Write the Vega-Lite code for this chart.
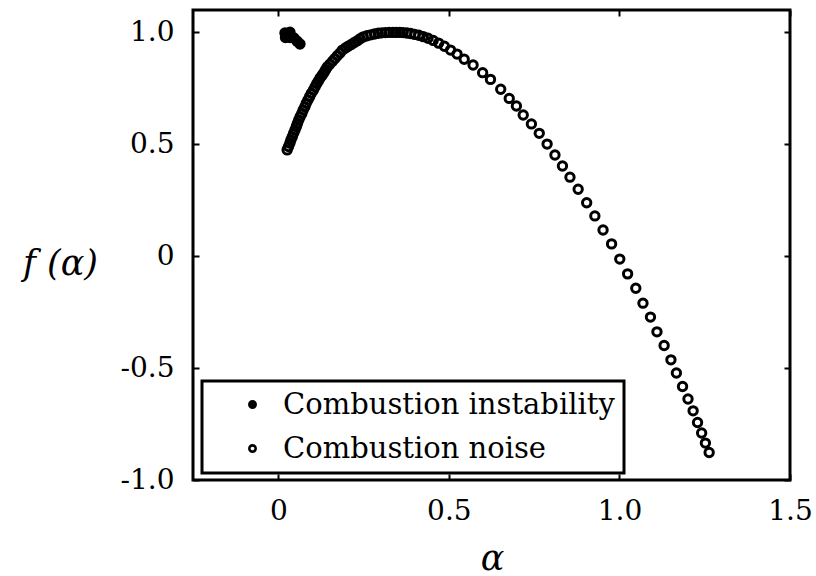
{
  "$schema": "https://vega.github.io/schema/vega-lite/v6.json",
  "width": 597,
  "height": 470,
  "autosize": "none",
  "padding": {"left": 193, "top": 10, "right": 26, "bottom": 96},
  "background": "white",
  "config": {
    "view": {"stroke": "black", "strokeWidth": 3},
    "font": "DejaVu Serif",
    "axis": {
      "grid": false,
      "domain": false,
      "tickColor": "black",
      "tickWidth": 2,
      "tickSize": -6,
      "labelFont": "DejaVu Serif",
      "labelFontSize": 28,
      "labelColor": "black",
      "labelFlush": false,
      "titleFont": "DejaVu Serif",
      "titleColor": "black",
      "titleFontWeight": "normal",
      "titleFontStyle": "italic",
      "titleFontSize": 35
    },
    "legend": {
      "strokeColor": "black",
      "strokeWidth": 3,
      "fillColor": "white",
      "padding": 9,
      "labelFont": "DejaVu Serif",
      "labelFontSize": 29,
      "labelColor": "black",
      "labelLimit": 600,
      "symbolSize": 40,
      "symbolStrokeWidth": 2.6,
      "symbolStrokeColor": "black",
      "symbolType": "circle",
      "symbolOffset": 27,
      "labelOffset": 16,
      "rowPadding": 14
    }
  },
  "data": {
    "values": [
      {"a": 0.0196, "f": 0.997, "s": "Combustion instability"},
      {"a": 0.0343, "f": 1.001, "s": "Combustion instability"},
      {"a": 0.0270, "f": 0.988, "s": "Combustion instability"},
      {"a": 0.0211, "f": 0.977, "s": "Combustion instability"},
      {"a": 0.0343, "f": 0.977, "s": "Combustion instability"},
      {"a": 0.0460, "f": 0.975, "s": "Combustion instability"},
      {"a": 0.0548, "f": 0.961, "s": "Combustion instability"},
      {"a": 0.0636, "f": 0.948, "s": "Combustion instability"},
      {"a": 0.026, "f": 0.475, "s": "Combustion noise"},
      {"a": 0.030, "f": 0.490, "s": "Combustion noise"},
      {"a": 0.034, "f": 0.505, "s": "Combustion noise"},
      {"a": 0.037, "f": 0.519, "s": "Combustion noise"},
      {"a": 0.041, "f": 0.534, "s": "Combustion noise"},
      {"a": 0.045, "f": 0.549, "s": "Combustion noise"},
      {"a": 0.049, "f": 0.564, "s": "Combustion noise"},
      {"a": 0.053, "f": 0.579, "s": "Combustion noise"},
      {"a": 0.056, "f": 0.593, "s": "Combustion noise"},
      {"a": 0.060, "f": 0.608, "s": "Combustion noise"},
      {"a": 0.064, "f": 0.623, "s": "Combustion noise"},
      {"a": 0.069, "f": 0.638, "s": "Combustion noise"},
      {"a": 0.073, "f": 0.653, "s": "Combustion noise"},
      {"a": 0.078, "f": 0.668, "s": "Combustion noise"},
      {"a": 0.082, "f": 0.683, "s": "Combustion noise"},
      {"a": 0.087, "f": 0.698, "s": "Combustion noise"},
      {"a": 0.092, "f": 0.713, "s": "Combustion noise"},
      {"a": 0.097, "f": 0.728, "s": "Combustion noise"},
      {"a": 0.103, "f": 0.742, "s": "Combustion noise"},
      {"a": 0.108, "f": 0.757, "s": "Combustion noise"},
      {"a": 0.113, "f": 0.772, "s": "Combustion noise"},
      {"a": 0.118, "f": 0.784, "s": "Combustion noise"},
      {"a": 0.123, "f": 0.797, "s": "Combustion noise"},
      {"a": 0.129, "f": 0.809, "s": "Combustion noise"},
      {"a": 0.134, "f": 0.821, "s": "Combustion noise"},
      {"a": 0.139, "f": 0.834, "s": "Combustion noise"},
      {"a": 0.144, "f": 0.846, "s": "Combustion noise"},
      {"a": 0.151, "f": 0.858, "s": "Combustion noise"},
      {"a": 0.159, "f": 0.871, "s": "Combustion noise"},
      {"a": 0.166, "f": 0.883, "s": "Combustion noise"},
      {"a": 0.173, "f": 0.896, "s": "Combustion noise"},
      {"a": 0.181, "f": 0.908, "s": "Combustion noise"},
      {"a": 0.188, "f": 0.921, "s": "Combustion noise"},
      {"a": 0.197, "f": 0.930, "s": "Combustion noise"},
      {"a": 0.205, "f": 0.938, "s": "Combustion noise"},
      {"a": 0.214, "f": 0.946, "s": "Combustion noise"},
      {"a": 0.223, "f": 0.955, "s": "Combustion noise"},
      {"a": 0.232, "f": 0.963, "s": "Combustion noise"},
      {"a": 0.240, "f": 0.972, "s": "Combustion noise"},
      {"a": 0.249, "f": 0.980, "s": "Combustion noise"},
      {"a": 0.260, "f": 0.985, "s": "Combustion noise"},
      {"a": 0.271, "f": 0.989, "s": "Combustion noise"},
      {"a": 0.282, "f": 0.993, "s": "Combustion noise"},
      {"a": 0.293, "f": 0.996, "s": "Combustion noise"},
      {"a": 0.303, "f": 0.998, "s": "Combustion noise"},
      {"a": 0.314, "f": 0.999, "s": "Combustion noise"},
      {"a": 0.325, "f": 1.000, "s": "Combustion noise"},
      {"a": 0.336, "f": 1.000, "s": "Combustion noise"},
      {"a": 0.346, "f": 1.000, "s": "Combustion noise"},
      {"a": 0.356, "f": 1.000, "s": "Combustion noise"},
      {"a": 0.366, "f": 0.999, "s": "Combustion noise"},
      {"a": 0.377, "f": 0.997, "s": "Combustion noise"},
      {"a": 0.388, "f": 0.995, "s": "Combustion noise"},
      {"a": 0.400, "f": 0.991, "s": "Combustion noise"},
      {"a": 0.412, "f": 0.987, "s": "Combustion noise"},
      {"a": 0.425, "f": 0.981, "s": "Combustion noise"},
      {"a": 0.439, "f": 0.974, "s": "Combustion noise"},
      {"a": 0.454, "f": 0.964, "s": "Combustion noise"},
      {"a": 0.470, "f": 0.952, "s": "Combustion noise"},
      {"a": 0.487, "f": 0.938, "s": "Combustion noise"},
      {"a": 0.505, "f": 0.921, "s": "Combustion noise"},
      {"a": 0.524, "f": 0.903, "s": "Combustion noise"},
      {"a": 0.545, "f": 0.880, "s": "Combustion noise"},
      {"a": 0.571, "f": 0.854, "s": "Combustion noise"},
      {"a": 0.599, "f": 0.820, "s": "Combustion noise"},
      {"a": 0.622, "f": 0.790, "s": "Combustion noise"},
      {"a": 0.652, "f": 0.746, "s": "Combustion noise"},
      {"a": 0.677, "f": 0.705, "s": "Combustion noise"},
      {"a": 0.698, "f": 0.671, "s": "Combustion noise"},
      {"a": 0.718, "f": 0.631, "s": "Combustion noise"},
      {"a": 0.742, "f": 0.591, "s": "Combustion noise"},
      {"a": 0.765, "f": 0.549, "s": "Combustion noise"},
      {"a": 0.788, "f": 0.501, "s": "Combustion noise"},
      {"a": 0.811, "f": 0.452, "s": "Combustion noise"},
      {"a": 0.833, "f": 0.403, "s": "Combustion noise"},
      {"a": 0.855, "f": 0.353, "s": "Combustion noise"},
      {"a": 0.879, "f": 0.299, "s": "Combustion noise"},
      {"a": 0.904, "f": 0.239, "s": "Combustion noise"},
      {"a": 0.928, "f": 0.180, "s": "Combustion noise"},
      {"a": 0.952, "f": 0.117, "s": "Combustion noise"},
      {"a": 0.977, "f": 0.055, "s": "Combustion noise"},
      {"a": 1.001, "f": -0.013, "s": "Combustion noise"},
      {"a": 1.024, "f": -0.079, "s": "Combustion noise"},
      {"a": 1.048, "f": -0.143, "s": "Combustion noise"},
      {"a": 1.069, "f": -0.210, "s": "Combustion noise"},
      {"a": 1.091, "f": -0.272, "s": "Combustion noise"},
      {"a": 1.110, "f": -0.338, "s": "Combustion noise"},
      {"a": 1.131, "f": -0.399, "s": "Combustion noise"},
      {"a": 1.151, "f": -0.463, "s": "Combustion noise"},
      {"a": 1.167, "f": -0.522, "s": "Combustion noise"},
      {"a": 1.185, "f": -0.582, "s": "Combustion noise"},
      {"a": 1.201, "f": -0.638, "s": "Combustion noise"},
      {"a": 1.216, "f": -0.691, "s": "Combustion noise"},
      {"a": 1.229, "f": -0.743, "s": "Combustion noise"},
      {"a": 1.241, "f": -0.790, "s": "Combustion noise"},
      {"a": 1.252, "f": -0.835, "s": "Combustion noise"},
      {"a": 1.263, "f": -0.877, "s": "Combustion noise"}
    ]
  },
  "layer": [
    {
      "mark": {"type": "point", "shape": "circle", "size": 70, "strokeWidth": 3, "stroke": "black", "opacity": 1},
      "encoding": {
        "x": {
          "field": "a", "type": "quantitative",
          "scale": {"domain": [-0.25, 1.5], "nice": false, "zero": false},
          "axis": {
            "values": [0, 0.5, 1, 1.5],
            "labelExpr": "datum.value == 0 ? '0' : format(datum.value, '.1f')",
            "labelPadding": 23,
            "title": "α",
            "titleX": 299,
            "titleY": 78,
            "titleAlign": "center",
            "titleBaseline": "middle"
          }
        },
        "y": {
          "field": "f", "type": "quantitative",
          "scale": {"domain": [-1, 1.1], "nice": false, "zero": false},
          "axis": {
            "values": [-1, -0.5, 0, 0.5, 1],
            "labelExpr": "datum.value == 0 ? '0' : (datum.value < 0 ? '-' + format(-datum.value, '.1f') : format(datum.value, '.1f'))",
            "labelPadding": 25,
            "title": "f (α)",
            "titleAngle": 0,
            "titleX": -133,
            "titleY": 253,
            "titleAlign": "center",
            "titleBaseline": "middle"
          }
        },
        "fill": {
          "field": "s", "type": "nominal",
          "scale": {"domain": ["Combustion instability", "Combustion noise"], "range": ["black", "transparent"]},
          "legend": {
            "orient": "none",
            "legendX": 9,
            "legendY": 371,
            "title": null,
            "labelExpr": "datum.label + '\u00a0\u00a0'"
          }
        }
      }
    },
    {
      "mark": {"type": "point", "opacity": 0},
      "encoding": {
        "x": {
          "field": "a", "type": "quantitative",
          "axis": {"orient": "top", "values": [0, 0.5, 1, 1.5], "labels": false, "title": null}
        },
        "y": {
          "field": "f", "type": "quantitative",
          "axis": {"orient": "right", "values": [-1, -0.5, 0, 0.5, 1], "labels": false, "title": null}
        }
      }
    }
  ],
  "resolve": {"axis": {"x": "independent", "y": "independent"}}
}
